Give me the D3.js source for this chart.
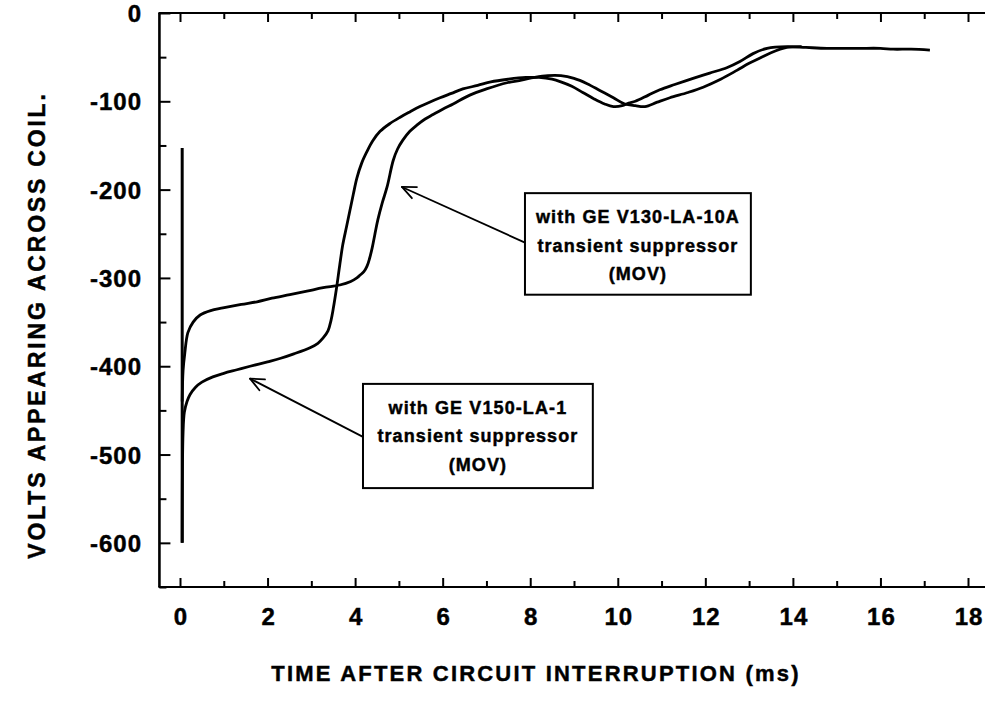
<!DOCTYPE html>
<html><head><meta charset="utf-8">
<script src="https://cdn.jsdelivr.net/npm/d3@7"></script>
<style>
body{margin:0;background:#fff}
svg{display:block}
text{font-family:"Liberation Sans",Arial,Helvetica,sans-serif;font-weight:bold;fill:#000;stroke:#000;stroke-width:0.45px}
</style></head><body>
<script>
// ---- data (time in ms, volts) ----
const xTickValues = [0,2,4,6,8,10,12,14,16,18];
const yTickValues = [0,-100,-200,-300,-400,-500,-600];
const xTitle = "TIME AFTER CIRCUIT INTERRUPTION (ms)";
const yTitle = "VOLTS APPEARING ACROSS COIL.";

const spike = [[0.05,-153],[0.05,-600]];

const seriesV150 = [
[0.05,-600],[0.07,-475],[0.1,-452],[0.16,-440],[0.23,-432],[0.35,-424],[0.5,-418],[0.75,-412],[1.0,-408],[1.3,-404],[1.6,-400],[2.0,-395],[2.3,-391],[2.6,-386],[2.97,-379],[3.15,-374],[3.27,-368],[3.38,-360],[3.45,-348],[3.5,-335],[3.58,-310],[3.65,-285],[3.72,-262],[3.8,-243],[3.88,-224],[3.96,-205],[4.04,-187],[4.15,-170],[4.27,-157],[4.4,-145],[4.57,-134],[4.8,-125],[5.03,-118],[5.25,-112],[5.48,-106],[5.7,-101],[5.94,-96],[6.2,-91],[6.46,-86],[6.8,-82],[7.1,-78],[7.5,-75],[7.9,-73],[8.2,-73],[8.5,-75],[8.7,-78],[8.95,-83],[9.2,-90],[9.45,-97],[9.7,-103],[9.9,-106],[10.1,-105],[10.25,-102],[10.4,-100],[10.7,-93],[10.96,-87],[11.3,-81],[11.72,-74],[12.1,-68],[12.49,-62],[12.79,-55],[13.09,-46],[13.41,-40],[13.86,-38],[14.3,-39],[14.78,-40],[15.2,-40],[15.53,-40],[16.0,-40],[16.29,-41],[16.7,-41],[17.13,-42]
];

const seriesV130 = [
[0.05,-440],[0.07,-405],[0.11,-385],[0.18,-362],[0.3,-350],[0.46,-342],[0.7,-337],[0.98,-334],[1.4,-330],[1.76,-327],[2.1,-323],[2.51,-319],[2.9,-315],[3.27,-311],[3.65,-308],[3.9,-304],[4.04,-300],[4.11,-297],[4.2,-293],[4.27,-287],[4.33,-278],[4.39,-266],[4.45,-251],[4.52,-234],[4.62,-215],[4.73,-197],[4.87,-167],[4.97,-154],[5.09,-144],[5.25,-134],[5.41,-127],[5.6,-120],[5.78,-115],[6.0,-109],[6.24,-103],[6.62,-93],[7.0,-86],[7.47,-79],[7.8,-76],[8.1,-73],[8.4,-71],[8.7,-71],[9.0,-74],[9.3,-80],[9.6,-88],[9.9,-96],[10.16,-103],[10.4,-105],[10.62,-106],[10.9,-101],[11.19,-96],[11.6,-90],[11.95,-84],[12.35,-75],[12.72,-65],[13.0,-57],[13.25,-51],[13.5,-45],[13.86,-39],[14.2,-38]
];

// annotations (data units)
const annoV130Lines = ["with GE V130-LA-10A","transient suppressor","(MOV)"];
const annoV150Lines = ["with GE V150-LA-1","transient suppressor","(MOV)"];
const annoV130Box = {x0:7.88, x1:13.04, y0:-204, y1:-319};
const annoV150Box = {x0:4.18, x1:9.43, y0:-420, y1:-538};
const annoV130Arrow = {from:[7.88,-260], to:[5.07,-197]};
const annoV150Arrow = {from:[4.18,-480], to:[1.6,-414]};

// ---- drawing ----
const W = 985, H = 705;
const x = d3.scaleLinear().domain([0,18]).range([180,968]);
const y = d3.scaleLinear().domain([-650,0]).range([587,13]);
const xLeft = x(-0.47), xRight = W + 2;

const svg = d3.select("body").append("svg").attr("width",W).attr("height",H);

// frame lines
svg.append("line").attr("x1",xLeft).attr("x2",xLeft).attr("y1",y(0)).attr("y2",y(-650))
  .attr("stroke","#000").attr("stroke-width",2.6);
svg.append("line").attr("x1",xLeft-1).attr("x2",xRight).attr("y1",y(0)).attr("y2",y(0))
  .attr("stroke","#000").attr("stroke-width",2.2);
svg.append("line").attr("x1",xLeft-1).attr("x2",xRight).attr("y1",y(-650)).attr("y2",y(-650))
  .attr("stroke","#000").attr("stroke-width",2.2);

// x ticks (top and bottom, inward) using d3 axes
const xMinor = d3.range(0,19,1);
function xTicks(sel, orient){
  const ax = (orient==="bottom"? d3.axisTop(x) : d3.axisBottom(x))
    .tickValues(xMinor).tickFormat("").tickSizeOuter(0)
    .tickSizeInner(0);
  sel.call(ax);
  sel.select(".domain").remove();
  sel.selectAll(".tick line")
    .attr("y2", d => (orient==="bottom"?-1:1) * (d%2===0 ? 9 : 6))
    .attr("stroke","#000").attr("stroke-width",2);
}
svg.append("g").attr("transform",`translate(0,${y(-650)})`).call(g=>xTicks(g,"bottom"));
svg.append("g").attr("transform",`translate(0,${y(0)})`).call(g=>xTicks(g,"top"));

// y ticks (left, inward)
const yMinor = d3.range(0,-651,-50);
const gy = svg.append("g").attr("transform",`translate(${xLeft},0)`);
gy.call(d3.axisRight(y).tickValues(yMinor).tickFormat("").tickSizeOuter(0).tickSizeInner(0));
gy.select(".domain").remove();
gy.selectAll(".tick line")
  .attr("x2", d => (d%100===0 ? 11 : 7))
  .attr("stroke","#000").attr("stroke-width",2);

// tick labels
svg.append("g").selectAll("text").data(yTickValues).join("text")
  .attr("x", 142).attr("y", d => y(d) + 9)
  .attr("text-anchor","end").attr("font-size",24).attr("letter-spacing",1)
  .text(d => d);
svg.append("g").selectAll("text").data(xTickValues).join("text")
  .attr("x", d => x(d)+1).attr("y", 625)
  .attr("text-anchor","middle").attr("font-size",24).attr("letter-spacing",1)
  .text(d => d);

// axis titles
svg.append("text").attr("x", 536).attr("y", 681)
  .attr("text-anchor","middle").attr("font-size",22).attr("letter-spacing",2.2)
  .text(xTitle);
svg.append("text").attr("transform",`translate(45,${325}) rotate(-90)`)
  .attr("text-anchor","middle").attr("font-size",23).attr("letter-spacing",2.8)
  .text(yTitle);

// curves
const line = d3.line().x(d=>x(d[0])).y(d=>y(d[1])).curve(d3.curveCatmullRom.alpha(0.5));
svg.append("path").datum(spike).attr("d", d3.line().x(d=>x(d[0])).y(d=>y(d[1])))
  .attr("fill","none").attr("stroke","#000").attr("stroke-width",3);
[seriesV150, seriesV130].forEach(s => {
  svg.append("path").datum(s).attr("d", line)
    .attr("fill","none").attr("stroke","#000").attr("stroke-width",2.8)
    .attr("stroke-linejoin","round");
});

// annotations
function annotate(box, lines, arrow){
  const g = svg.append("g");
  g.append("rect").attr("x",x(box.x0)).attr("y",y(box.y0))
    .attr("width",x(box.x1)-x(box.x0)).attr("height",y(box.y1)-y(box.y0))
    .attr("fill","#fff").attr("stroke","#000").attr("stroke-width",2);
  const cx = (x(box.x0)+x(box.x1))/2;
  const top = y(box.y0);
  g.selectAll("text").data(lines).join("text")
    .attr("x", cx).attr("y",(d,i)=> top + 30 + i*28.5)
    .attr("text-anchor","middle").attr("font-size",18).attr("letter-spacing",1.1)
    .text(d=>d);
  const x1 = x(arrow.from[0]), y1 = y(arrow.from[1]);
  const x2 = x(arrow.to[0]), y2 = y(arrow.to[1]);
  g.append("line").attr("x1",x1).attr("y1",y1).attr("x2",x2).attr("y2",y2)
    .attr("stroke","#000").attr("stroke-width",1.8);
  const ang = Math.atan2(y1-y2, x1-x2), L = 15, spread = 0.42;
  [ang-spread, ang+spread].forEach(a => {
    g.append("line").attr("x1",x2).attr("y1",y2)
      .attr("x2",x2+L*Math.cos(a)).attr("y2",y2+L*Math.sin(a))
      .attr("stroke","#000").attr("stroke-width",1.8).attr("stroke-linecap","round");
  });
}
annotate(annoV130Box, annoV130Lines, annoV130Arrow);
annotate(annoV150Box, annoV150Lines, annoV150Arrow);
</script>
</body></html>
